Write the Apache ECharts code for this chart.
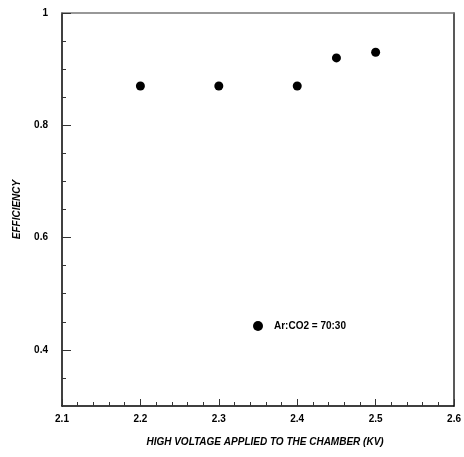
<!DOCTYPE html>
<html>
<head>
<meta charset="UTF-8">
<script src="https://cdn.jsdelivr.net/npm/echarts@6/dist/echarts.min.js"></script>
<style>
  html, body { margin: 0; padding: 0; background: #fff; }
  #chart { width: 464px; height: 457px; }
</style>
</head>
<body>
<div id="chart"></div>
<script>
// high voltage (kV) vs efficiency, Ar:CO2 = 70:30
var voltage = [2.2, 2.3, 2.4, 2.45, 2.5];
var efficiency = [0.87, 0.87, 0.87, 0.92, 0.93];
var seriesName = 'Ar:CO2 = 70:30';
var yMajor = [0.4, 0.6, 0.8, 1];
var yMinor = [0.35, 0.45, 0.5, 0.55, 0.65, 0.7, 0.75, 0.85, 0.9, 0.95];

var font = 'Liberation Sans, Arial, sans-serif';
var lbl = { color: '#000', fontWeight: 'bold', fontSize: 10, fontFamily: font };

var chart = echarts.init(document.getElementById('chart'));
chart.setOption({
    animation: false,
    grid: { left: 62, right: 9, top: 13, bottom: 51 },
    legend: {
        data: [{ name: seriesName, icon: 'circle', itemStyle: { color: '#000', opacity: 1 } }],
        left: 248, top: 316,
        itemWidth: 10, itemHeight: 10,
        textStyle: { color: '#000', fontWeight: 'bold', fontSize: 10, fontFamily: font, padding: [0, 0, 0, 6] }
    },
    xAxis: [{
        type: 'value', min: 2.1, max: 2.6, interval: 0.1,
        axisLine: { lineStyle: { color: '#000', width: 1.5 } },
        axisTick: { inside: true, length: 7, lineStyle: { color: '#333' } },
        minorTick: { show: true, splitNumber: 5, length: 4, lineStyle: { color: '#333' } },
        splitLine: { show: false },
        axisLabel: Object.assign({ margin: 8, formatter: function (v) { return v.toFixed(1); } }, lbl),
        name: 'HIGH VOLTAGE APPLIED TO THE CHAMBER (KV)',
        nameLocation: 'middle', nameGap: 31,
        nameTextStyle: { color: '#000', fontWeight: 'bold', fontStyle: 'italic', fontSize: 10, fontFamily: font, padding: [0, 0, 0, 14] }
    }, {
        type: 'value', position: 'top', min: 2.1, max: 2.6,
        axisLine: { show: true, lineStyle: { color: '#777', width: 1.5 } },
        axisTick: { show: false }, axisLabel: { show: false }, splitLine: { show: false }
    }],
    yAxis: [{
        type: 'value', min: 0.3, max: 1,
        axisLine: { show: true, lineStyle: { color: '#000', width: 1.5 } },
        axisTick: { inside: true, length: 9, customValues: yMajor, lineStyle: { color: '#333' } },
        splitLine: { show: false },
        axisLabel: Object.assign({ margin: 14, customValues: yMajor }, lbl),
        name: 'EFFICIENCY', nameLocation: 'middle', nameGap: 40,
        nameTextStyle: { color: '#000', fontWeight: 'bold', fontStyle: 'italic', fontSize: 10, fontFamily: font }
    }, {
        type: 'value', position: 'left', min: 0.3, max: 1,
        axisLine: { show: false },
        axisTick: { show: true, inside: true, length: 4, customValues: yMinor, lineStyle: { color: '#333' } },
        axisLabel: { show: false }, splitLine: { show: false }
    }, {
        type: 'value', position: 'right', min: 0.3, max: 1,
        axisLine: { show: true, lineStyle: { color: '#222', width: 1.5 } },
        axisTick: { show: false }, axisLabel: { show: false }, splitLine: { show: false }
    }],
    series: [{
        name: seriesName,
        type: 'scatter',
        symbol: 'circle',
        symbolSize: 9,
        itemStyle: { color: '#000', opacity: 1 },
        data: voltage.map(function (v, i) { return [v, efficiency[i]]; })
    }]
});
</script>
</body>
</html>
